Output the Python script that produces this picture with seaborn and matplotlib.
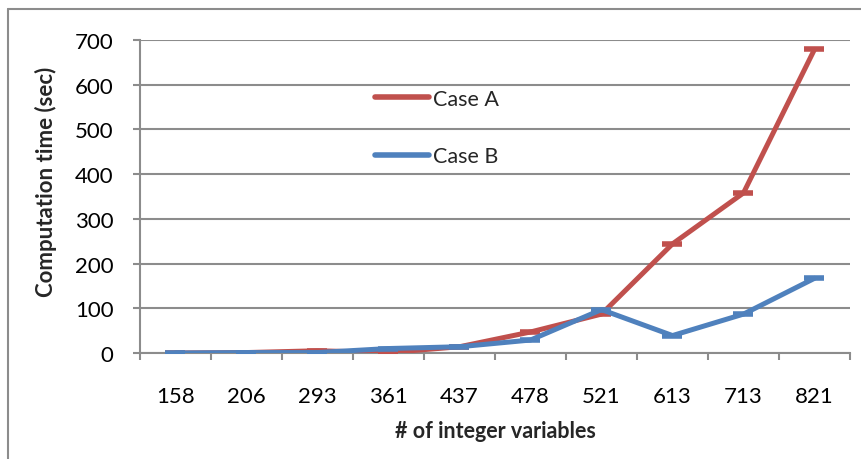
import matplotlib
matplotlib.use("Agg")
import matplotlib.pyplot as plt
from matplotlib.lines import Line2D
from matplotlib.ticker import FixedLocator, NullFormatter, FixedFormatter
import seaborn as sns
import pandas as pd

categories = ["158", "206", "293", "361", "437", "478", "521", "613", "713", "821"]
case_a = [0, 1, 5, 1, 14, 47, 87, 244, 358, 679]
case_b = [0, 1, 1, 10, 14, 29, 97, 39, 87, 167]
series_names = ["Case A", "Case B"]
colors = {"Case A": "#C0504D", "Case B": "#4F81BD"}

sns.set_style("white")
plt.rcParams["font.family"] = ["Lato", "DejaVu Sans"]

rows = []
for name, vals in zip(series_names, [case_a, case_b]):
    for i, v in enumerate(vals):
        rows.append({"pos": i, "cat": categories[i], "time": v, "case": name})
df = pd.DataFrame(rows)

fig = plt.figure(figsize=(8.62, 4.6), dpi=100)
ax = fig.add_axes([140/862, 106/460, 710/862, 313/460])

for name in series_names:
    sub = df[df["case"] == name]
    sns.lineplot(data=sub, x="pos", y="time", ax=ax, color=colors[name],
                 linewidth=3.6, marker="_", markersize=14, markeredgewidth=4,
                 markeredgecolor=colors[name], label=name, zorder=3)

grid_c = "#8C8C8C"
ax.set_xlim(-0.5, len(categories) - 0.5)
ax.set_ylim(0, 700)
ax.set_yticks(range(0, 701, 100))
ax.yaxis.grid(True, color=grid_c, linewidth=1.5, zorder=0)
ax.xaxis.grid(False)
for s in ["top", "right"]:
    ax.spines[s].set_visible(False)
for s in ["left", "bottom"]:
    ax.spines[s].set_color(grid_c)
    ax.spines[s].set_linewidth(1.5)

ax.xaxis.set_major_locator(FixedLocator([i - 0.5 for i in range(len(categories) + 1)]))
ax.xaxis.set_major_formatter(NullFormatter())
ax.xaxis.set_minor_locator(FixedLocator(list(range(len(categories)))))
ax.xaxis.set_minor_formatter(FixedFormatter(categories))
ax.tick_params(axis="x", which="major", direction="out", length=5, width=1.5,
               color=grid_c, bottom=True)
ax.tick_params(axis="x", which="minor", length=0, pad=24, labelsize=16,
               labelcolor="black", bottom=True)
ax.tick_params(axis="y", which="major", direction="out", length=5, width=1.5,
               color=grid_c, pad=14, labelsize=16, labelcolor="black", left=True)

ax.set_xlabel("# of integer variables", fontsize=15.5, fontweight="bold")
ax.set_ylabel("Computation time (sec)", fontsize=16, fontweight="bold")
ax.xaxis.set_label_coords(0.5, -0.215)
ax.yaxis.set_label_coords(-0.117, 0.55)

leg = ax.legend(loc="upper left", bbox_to_anchor=(0.331, 0.845), frameon=False,
                fontsize=15.5, handlelength=2.5, handletextpad=0.2,
                labelspacing=1.75, borderpad=0, borderaxespad=0)
for h in leg.legend_handles:
    h.set_marker("")
    h.set_linewidth(4)

fig.add_artist(Line2D([8/862, 8/862], [0, 1 - 10/460], transform=fig.transFigure,
                      color="#8C8C8C", linewidth=1.5))
fig.add_artist(Line2D([8/862, 1], [1 - 10/460, 1 - 10/460], transform=fig.transFigure,
                      color="#8C8C8C", linewidth=1.5))

fig.savefig("out.png", dpi=100)
